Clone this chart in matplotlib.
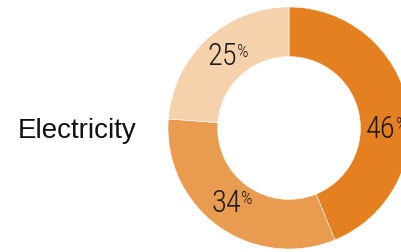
import numpy as np
import matplotlib
matplotlib.use("Agg")
import matplotlib.pyplot as plt

title = "Electricity"
values = [46, 34, 25]
labels = ["46", "34", "25"]
colors = ["#E4801F", "#E99B4F", "#F5D1AC"]

fig = plt.figure(figsize=(4.01, 2.52), dpi=100)
ax = fig.add_axes([0, 0, 1, 1])

wedges, _ = ax.pie(values, colors=colors, startangle=90, counterclock=False,
                   radius=1.0, wedgeprops=dict(width=0.41, edgecolor="white", linewidth=0.4))

# pixel geometry: centre at (289, 128) from top-left, radius 121 px
ax.set_xlim(-289 / 121, (401 - 289) / 121)
ax.set_ylim(-(252 - 128) / 121, 128 / 121)
ax.set_aspect("equal")
ax.axis("off")

# label placement: ring middle, small angular nudges
nudge = [-12, -4, 0]
rad = [0.76, 0.81, 0.81]
numfont = "Roboto Condensed"
for w, lab, dn, r in zip(wedges, labels, nudge, rad):
    ang = np.deg2rad((w.theta1 + w.theta2) / 2 + dn)
    t = ax.text(r * np.cos(ang), r * np.sin(ang), lab, ha="center", va="center",
                fontsize=22, family=numfont, fontweight="light", color="#1a1a1a")
    ax.annotate("%", xy=(1, 1), xycoords=t, ha="left", va="top",
                fontsize=13, family=numfont, fontweight="light", color="#1a1a1a",
                xytext=(0, -1), textcoords="offset points", annotation_clip=False)

fig.text(18 / 401, (252 - 138) / 252, title, ha="left", va="baseline",
         fontsize=20, family="Liberation Sans", color="#111111")

fig.savefig("out.png", dpi=100)
